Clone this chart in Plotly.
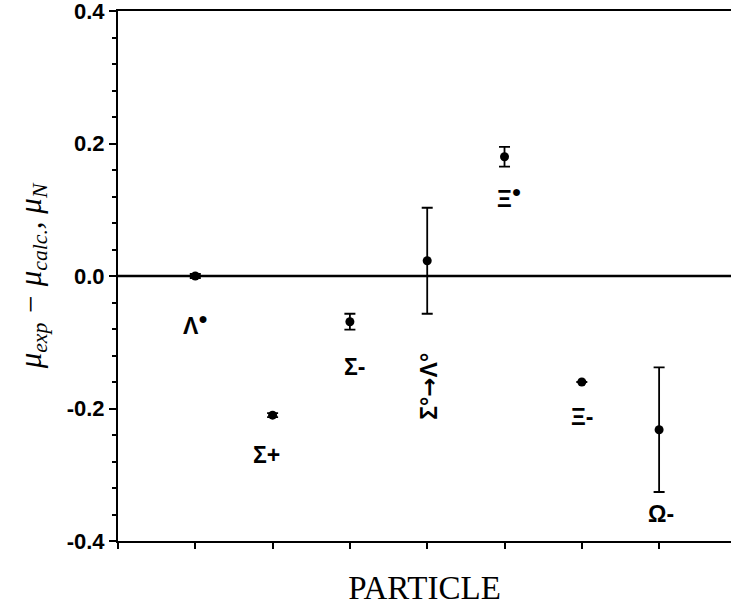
import plotly.graph_objects as go

particles = ["Λ<sup>●</sup>", "Σ+", "Σ-",
             "Σ°<span style='font-family:DejaVu Sans'>→</span>Λ°",
             "Ξ<sup>●</sup>", "Ξ-", "Ω-"]
xpos = [1, 2, 3, 4, 5, 6, 7]
diff = [0.0, -0.21, -0.069, 0.023, 0.18, -0.16, -0.232]
err = [0.003, 0.003, 0.012, 0.08, 0.015, 0.0, 0.094]
label_y = [-0.073, -0.27, -0.137, -0.166, 0.12, -0.213, -0.359]
label_dx = [-0.0, -0.08, 0.06, 0.02, 0.06, 0.0, 0.03]
ytick_vals = [-0.4, -0.2, 0.0, 0.2, 0.4]
ytick_text = ["-0.4", "-0.2", "0.0", "0.2", "0.4"]

fig = go.Figure()
fig.add_shape(type="line", xref="paper", yref="y", x0=0, x1=1, y0=0, y1=0,
              line=dict(color="black", width=2.5), layer="below")
fig.add_trace(go.Scatter(
    x=xpos, y=diff, mode="markers",
    marker=dict(color="black", size=9),
    error_y=dict(type="data", array=err, visible=True, color="black",
                 thickness=1.8, width=5.5),
    showlegend=False, hoverinfo="skip"))

for i, lab in enumerate(particles):
    fig.add_annotation(
        x=xpos[i] + label_dx[i], y=label_y[i], text=lab, showarrow=False,
        textangle=-90 if "→" in lab else 0,
        font=dict(family="Liberation Sans", size=23, color="black",
                  weight="bold"))

fig.update_layout(
    width=731, height=616,
    margin=dict(l=118, r=0, t=11, b=75),
    paper_bgcolor="white", plot_bgcolor="white",
    xaxis=dict(range=[0, 7.93], showgrid=False, zeroline=False,
               showline=True, linecolor="black", linewidth=2, mirror=True,
               tickvals=list(range(0, 8)), ticks="outside", ticklen=6,
               tickwidth=1.5, tickcolor="black", showticklabels=False,
               title=dict(text="PARTICLE", standoff=28,
                          font=dict(family="Liberation Serif", size=33,
                                    color="black"))),
    yaxis=dict(range=[-0.4, 0.4], showgrid=False, zeroline=False,
               showline=True, linecolor="black", linewidth=2,
               tickvals=ytick_vals, ticktext=ytick_text,
               ticks="outside", ticklen=7, tickwidth=1.5, tickcolor="black",
               ticklabeloverflow="allow",
               minor=dict(dtick=0.04, ticks="outside", ticklen=4,
                          tickwidth=1.5, tickcolor="black"),
               tickfont=dict(family="Liberation Sans", size=22, color="black",
                             weight="bold"),
               title=dict(text="<i>μ<sub>exp</sub> − μ<sub>calc.</sub>, μ<sub>N</sub></i>",
                          standoff=16,
                          font=dict(family="Liberation Serif", size=31,
                                    color="black"))),
)
fig.write_html("out.html")
